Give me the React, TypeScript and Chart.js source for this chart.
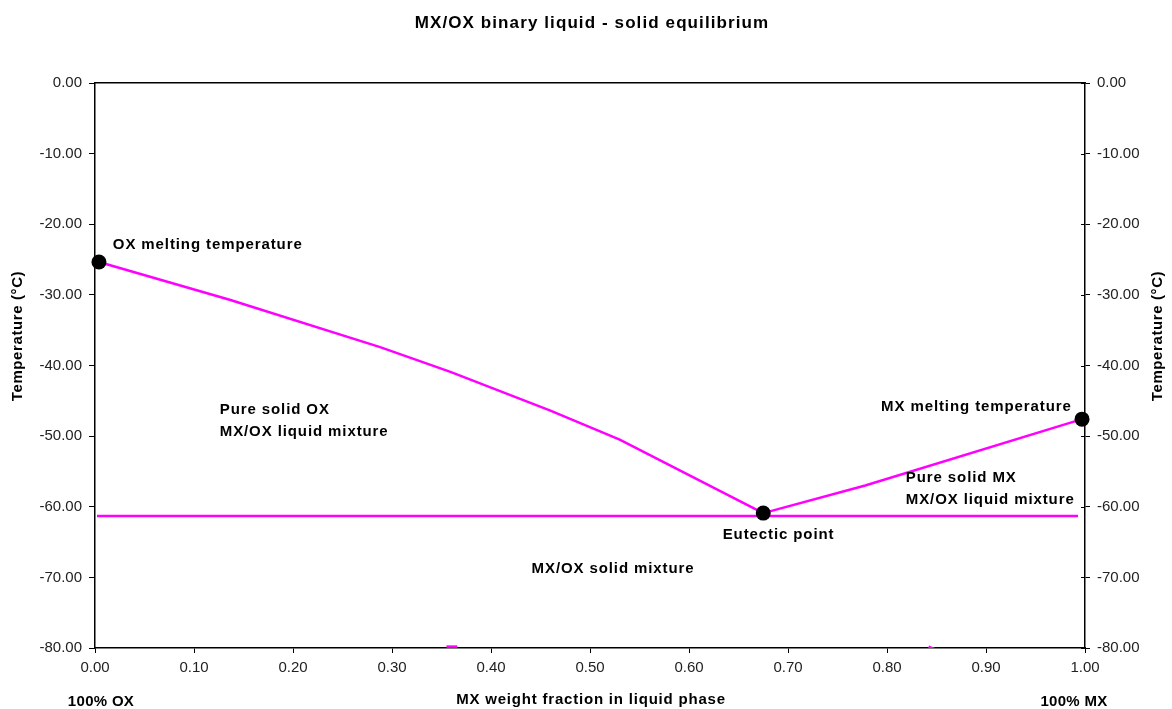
import React, { useEffect, useRef } from "react";
import Chart from "chart.js/auto";

const oxCurveX = [0.004, 0.136, 0.288, 0.359, 0.46, 0.53, 0.675];
const oxCurveT = [-25.35, -30.7, -37.4, -40.9, -46.4, -50.5, -60.9];
const mxCurveX = [0.675, 0.778, 0.997];
const mxCurveT = [-60.9, -57.0, -47.6];
const eutecticLineX = [0.002, 0.993];
const eutecticLineT = [-61.3, -61.3];
const keyPointX = [0.004, 0.675, 0.997];
const keyPointT = [-25.35, -60.9, -47.6];
const stubAX = [0.355, 0.366];
const stubAT = [-79.8, -79.8];
const stubBX = [0.842, 0.849];
const stubBT = [-79.8, -80.2];
const xTicks = [0, 0.1, 0.2, 0.3, 0.4, 0.5, 0.6, 0.7, 0.8, 0.9, 1.0];
const yTicks = [0, -10, -20, -30, -40, -50, -60, -70, -80];

const labelTexts = [
  "OX melting temperature",
  "Pure solid OX",
  "MX/OX liquid mixture",
  "MX/OX solid mixture",
  "Eutectic point",
  "MX melting temperature",
  "Pure solid MX",
  "MX/OX liquid mixture",
];
const labelX = [0.018, 0.126, 0.126, 0.441, 0.634, 0.794, 0.819, 0.819];
const labelT = [-22.9, -46.3, -49.4, -68.8, -64.0, -45.9, -55.9, -59.0];

const zip = (xs: number[], ys: number[]) => xs.map((x, i) => ({ x, y: ys[i] }));

const FONT = "Arial, 'Liberation Sans', sans-serif";

const textPlugin = {
  id: "textPlugin",
  afterDraw(chart: any) {
    const ctx = chart.ctx;
    const xs = chart.scales.x;
    const ys = chart.scales.y;
    const area = chart.chartArea;
    ctx.save();
    ctx.fillStyle = "#000";
    ctx.font = `bold 17px ${FONT}`;
    (ctx as any).letterSpacing = "1.1px";
    ctx.textAlign = "center";
    ctx.textBaseline = "middle";
    ctx.fillText("MX/OX binary liquid - solid equilibrium", 592, 23);
    ctx.font = `bold 15px ${FONT}`;
    (ctx as any).letterSpacing = "0.9px";
    ctx.textAlign = "left";
    labelTexts.forEach((t, i) => {
      ctx.fillText(t, xs.getPixelForValue(labelX[i]), ys.getPixelForValue(labelT[i]));
    });
    ctx.font = `bold 15px ${FONT}`;
    (ctx as any).letterSpacing = "0.8px";
    ctx.textAlign = "center";
    ctx.fillText("MX weight fraction in liquid phase", 591, 700);
    (ctx as any).letterSpacing = "0.3px";
    ctx.fillText("100% OX", 101, 702);
    ctx.fillText("100% MX", 1074, 702);
    ctx.font = `bold 15px ${FONT}`;
    (ctx as any).letterSpacing = "0.6px";
    [18, 1158].forEach((x) => {
      ctx.save();
      ctx.translate(x, 336);
      ctx.rotate(-Math.PI / 2);
      ctx.fillText("Temperature (°C)", 0, 0);
      ctx.restore();
    });
    (ctx as any).letterSpacing = "0px";
    ctx.strokeStyle = "#000";
    ctx.lineWidth = 1;
    yTicks.forEach((v) => {
      const py = Math.round(ys.getPixelForValue(v)) + 0.5;
      ctx.beginPath();
      ctx.moveTo(area.right - 4, py);
      ctx.lineTo(area.right, py);
      ctx.stroke();
    });
    ctx.restore();
  },
};

export default function App() {
  const ref = useRef<HTMLCanvasElement | null>(null);
  useEffect(() => {
    if (!ref.current) return;
    const lineStyle = {
      borderColor: "#FF00FF",
      borderWidth: 2.5,
      pointRadius: 0,
      showLine: true,
      fill: false,
      tension: 0,
      order: 1,
    };
    const tickFont = { family: FONT, size: 15 };
    const chart = new Chart(ref.current, {
      type: "scatter",
      data: {
        datasets: [
          { ...lineStyle, data: zip(oxCurveX, oxCurveT) },
          { ...lineStyle, data: zip(mxCurveX, mxCurveT) },
          { ...lineStyle, data: zip(eutecticLineX, eutecticLineT) },
          { ...lineStyle, data: zip(stubAX, stubAT) },
          { ...lineStyle, data: zip(stubBX, stubBT) },
          {
            data: zip(keyPointX, keyPointT),
            showLine: false,
            pointRadius: 7.5,
            pointBackgroundColor: "#000",
            pointBorderColor: "#000",
            pointBorderWidth: 0,
            clip: false,
            order: 0,
          } as any,
        ],
      },
      options: {
        animation: false,
        responsive: false,
        maintainAspectRatio: false,
        layout: { padding: { top: 83, left: 0, right: 0, bottom: 0 } },
        plugins: {
          legend: { display: false },
          tooltip: { enabled: false },
          title: { display: false },
        },
        scales: {
          x: {
            type: "linear",
            min: 0,
            max: 1,
            afterBuildTicks: (s: any) => {
              s.ticks = xTicks.map((v) => ({ value: v }));
            },
            afterFit: (s: any) => {
              s.height = 61;
            },
            ticks: {
              font: tickFont,
              color: "#222",
              padding: 6,
              maxRotation: 0,
              callback: (v: any) => Number(v).toFixed(2),
            },
            grid: { display: true, drawOnChartArea: false, drawTicks: true, tickLength: 5, color: "#000" },
            border: { display: true, color: "#000", width: 1.5 },
          },
          y: {
            type: "linear",
            position: "left",
            min: -80,
            max: 0,
            afterBuildTicks: (s: any) => {
              s.ticks = yTicks.map((v) => ({ value: v }));
            },
            afterFit: (s: any) => {
              s.width = 95;
            },
            ticks: {
              font: tickFont,
              color: "#222",
              padding: 7,
              callback: (v: any) => Number(v).toFixed(2),
            },
            grid: { display: true, drawOnChartArea: false, drawTicks: true, tickLength: 6, color: "#000" },
            border: { display: true, color: "#000", width: 1.5 },
          },
          y2: {
            type: "linear",
            position: "right",
            min: -80,
            max: 0,
            afterBuildTicks: (s: any) => {
              s.ticks = yTicks.map((v) => ({ value: v }));
            },
            afterFit: (s: any) => {
              s.width = 87;
            },
            ticks: {
              font: tickFont,
              color: "#222",
              padding: 7,
              callback: (v: any) => Number(v).toFixed(2),
            },
            grid: { display: true, drawOnChartArea: false, drawTicks: true, tickLength: 5, color: "#000" },
            border: { display: true, color: "#000", width: 1.5 },
          },
          xTop: {
            type: "linear",
            position: "top",
            min: 0,
            max: 1,
            display: true,
            afterFit: (s: any) => {
              s.height = 0;
            },
            ticks: { display: false },
            grid: { display: false, drawTicks: false },
            border: { display: true, color: "#000", width: 1.5 },
          },
        },
      } as any,
      plugins: [textPlugin],
    });
    return () => chart.destroy();
  }, []);
  return (
    <div style={{ position: "fixed", left: 0, top: 0, width: 1172, height: 709, background: "#fff" }}>
      <canvas ref={ref} width={1172} height={709} style={{ width: 1172, height: 709 }} />
    </div>
  );
}
